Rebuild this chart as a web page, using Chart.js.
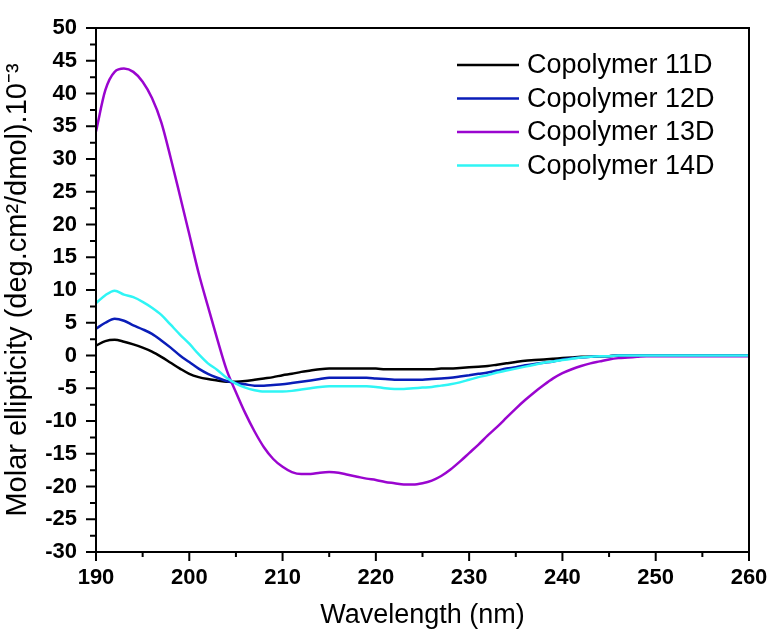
<!DOCTYPE html>
<html>
<head>
<meta charset="utf-8">
<script src="https://cdn.jsdelivr.net/npm/chart.js@4"></script>
<style>
  body { margin: 0; background: #fff; }
  canvas { display: block; }
</style>
</head>
<body>
<canvas id="ctx" width="769" height="632"></canvas>
<script>
const wavelength = [190, 191, 192, 193, 194, 195, 196, 197, 198, 199,
    200, 201, 202, 203, 204, 205, 206, 207, 208, 209,
    210, 211, 212, 213, 214, 215, 216, 217, 218, 219,
    220, 221, 222, 223, 224, 225, 226, 227, 228, 229,
    230, 231, 232, 233, 234, 235, 236, 237, 238, 239,
    240, 241, 242, 243, 244, 245, 246, 247, 248, 249,
    250, 251, 252, 253, 254, 255, 256, 257, 258, 259, 260];

const seriesNames = ['Copolymer 11D', 'Copolymer 12D', 'Copolymer 13D', 'Copolymer 14D'];
const seriesColors = ['#000000', '#0a1db8', '#9a05cf', '#2ff5f5'];

const cop11D = [1.5, 2.2, 2.4, 2.1, 1.7, 1.2, 0.6, -0.2, -1.1, -2.0,
    -2.8, -3.3, -3.6, -3.8, -4.0, -4.0, -3.9, -3.7, -3.5, -3.3,
    -3.0, -2.8, -2.5, -2.3, -2.1, -2.0, -2.0, -2.0, -2.0, -2.0,
    -2.0, -2.1, -2.1, -2.1, -2.1, -2.1, -2.1, -2.0, -2.0, -1.9,
    -1.8, -1.7, -1.6, -1.4, -1.2, -1.0, -0.8, -0.7, -0.6, -0.5,
    -0.4, -0.3, -0.2, -0.2, -0.1, -0.1, 0, 0, 0, 0,
    0, 0, 0, 0, 0, 0, 0, 0, 0, 0, 0];

const cop12D = [4.1, 5.0, 5.6, 5.3, 4.6, 4.0, 3.3, 2.3, 1.2, 0.0,
    -1.0, -2.0, -2.8, -3.4, -3.9, -4.2, -4.4, -4.6, -4.6, -4.5,
    -4.4, -4.2, -4.0, -3.8, -3.6, -3.4, -3.4, -3.4, -3.4, -3.4,
    -3.5, -3.6, -3.7, -3.7, -3.7, -3.7, -3.6, -3.5, -3.4, -3.2,
    -3.0, -2.8, -2.6, -2.3, -2.0, -1.8, -1.5, -1.3, -1.1, -0.9,
    -0.6, -0.4, -0.3, -0.2, -0.1, -0.1, 0, 0, 0, 0,
    0, 0, 0, 0, 0, 0, 0, 0, 0, 0, 0];

const cop13D = [34.2, 40.5, 43.3, 43.8, 43.3, 41.8, 39.3, 35.6, 30.2, 24.4,
    18.5, 12.6, 7.5, 2.5, -2.2, -5.6, -8.8, -11.6, -14.0, -15.8,
    -17.0, -17.8, -18.1, -18.1, -17.9, -17.8, -17.9, -18.2, -18.5, -18.8,
    -19.0, -19.3, -19.5, -19.7, -19.7, -19.5, -19.1, -18.4, -17.4, -16.2,
    -14.9, -13.6, -12.2, -10.9, -9.5, -8.1, -6.8, -5.6, -4.5, -3.5,
    -2.7, -2.1, -1.6, -1.2, -0.9, -0.6, -0.4, -0.3, -0.2, -0.1,
    -0.1, -0.1, -0.1, -0.1, -0.1, -0.1, -0.1, -0.1, -0.1, -0.1, -0.1];

const cop14D = [8.0, 9.2, 9.9, 9.3, 8.9, 8.2, 7.3, 6.2, 4.7, 3.2,
    1.8, 0.2, -1.2, -2.2, -3.4, -4.3, -4.9, -5.3, -5.5, -5.5,
    -5.5, -5.4, -5.2, -5.0, -4.8, -4.7, -4.7, -4.7, -4.7, -4.7,
    -4.8, -5.0, -5.1, -5.1, -5.0, -4.9, -4.8, -4.6, -4.4, -4.1,
    -3.7, -3.3, -3.0, -2.6, -2.3, -2.0, -1.7, -1.4, -1.1, -0.9,
    -0.7, -0.5, -0.3, -0.2, -0.1, -0.1, 0, 0, 0, 0,
    0, 0, 0, 0, 0, 0, 0, 0, 0, 0, 0];

const allSeries = [cop11D, cop12D, cop13D, cop14D];
const FONT = '"Liberation Sans", Arial, sans-serif';

// box + outward major/minor ticks
const frameTicks = {
    id: 'frameTicks',
    afterDraw(chart) {
        const {ctx, chartArea: a, scales: {x, y}} = chart;
        ctx.save();
        ctx.strokeStyle = '#000';
        ctx.lineWidth = 2;
        ctx.strokeRect(a.left, a.top, a.right - a.left, a.bottom - a.top);
        ctx.beginPath();
        y.ticks.forEach((t, i) => {
            const py = y.getPixelForValue(t.value);
            ctx.moveTo(a.left - 10, py); ctx.lineTo(a.left, py);
            if (i < y.ticks.length - 1) {
                const pm = y.getPixelForValue(t.value + 2.5);
                ctx.moveTo(a.left - 6, pm); ctx.lineTo(a.left, pm);
            }
        });
        x.ticks.forEach((t, i) => {
            const px = x.getPixelForValue(t.value);
            ctx.moveTo(px, a.bottom); ctx.lineTo(px, a.bottom + 9);
            if (i < x.ticks.length - 1) {
                const pm = x.getPixelForValue(t.value + 5);
                ctx.moveTo(pm, a.bottom); ctx.lineTo(pm, a.bottom + 5);
            }
        });
        ctx.stroke();
        ctx.restore();
    }
};

// legend inside the plot, top right
const insideLegend = {
    id: 'insideLegend',
    afterDraw(chart) {
        const ctx = chart.ctx;
        ctx.save();
        ctx.font = '27px ' + FONT;
        ctx.textBaseline = 'middle';
        chart.data.datasets.forEach((ds, i) => {
            const yy = 65 + i * 33.5;
            ctx.strokeStyle = ds.borderColor;
            ctx.lineWidth = 2.5;
            ctx.beginPath();
            ctx.moveTo(457, yy);
            ctx.lineTo(519, yy);
            ctx.stroke();
            ctx.fillStyle = '#000';
            ctx.fillText(ds.label, 527, yy + 1);
        });
        ctx.restore();
    }
};

new Chart(document.getElementById('ctx'), {
    type: 'line',
    data: {
        datasets: seriesNames.map((name, i) => ({
            label: name,
            data: wavelength.map((w, j) => ({x: w, y: allSeries[i][j]})),
            borderColor: seriesColors[i],
            borderWidth: 2.5,
            pointRadius: 0,
            cubicInterpolationMode: 'monotone',
            fill: false,
            order: seriesNames.length - i
        }))
    },
    options: {
        responsive: false,
        animation: false,
        layout: {padding: {top: 28, right: 20, left: 0, bottom: 0}},
        plugins: {legend: {display: false}, tooltip: {enabled: false}},
        scales: {
            x: {
                type: 'linear',
                min: 190, max: 260,
                grid: {display: false},
                border: {display: false},
                ticks: {stepSize: 10, color: '#000', padding: 5, font: {family: FONT, size: 22, weight: 'bold'}},
                title: {display: true, text: 'Wavelength (nm)', color: '#000', padding: 0, font: {family: FONT, size: 27}},
                afterFit(scale) {
                    scale.height = 80;
                    scale.paddingLeft = 0;
                    scale.paddingRight = 0;
                }
            },
            y: {
                min: -30, max: 50,
                grid: {display: false},
                border: {display: false},
                ticks: {stepSize: 5, color: '#000', padding: 11, font: {family: FONT, size: 22, weight: 'bold'}},
                title: {display: true, text: 'Molar ellipticity (deg.cm²/dmol).10⁻³', color: '#000', padding: 1, font: {family: FONT, size: 29}},
                afterFit(scale) {
                    scale.width = 96;
                    scale.paddingTop = 0;
                    scale.paddingBottom = 0;
                }
            }
        }
    },
    plugins: [frameTicks, insideLegend]
});
</script>
</body>
</html>
